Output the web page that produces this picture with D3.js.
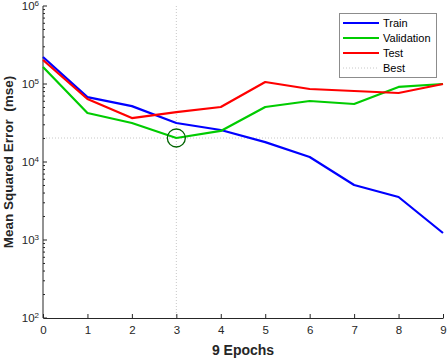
<!DOCTYPE html>
<html>
<head>
<meta charset="utf-8">
<script src="https://cdn.jsdelivr.net/npm/d3@7"></script>
<style>
  body { margin: 0; background: #fff; }
  text { font-family: "Liberation Sans", Arial, sans-serif; }
</style>
</head>
<body>
<div id="chart"></div>
<script>
// data (log scale, mse per epoch)
let epochs = [0, 1, 2, 3, 4, 5, 6, 7, 8, 9];
let trainPerf = [2.22e5, 6.8e4, 5.2e4, 3.16e4, 2.57e4, 1.8e4, 1.16e4, 5.07e3, 3.56e3, 1.23e3];
let valPerf = [1.65e5, 4.25e4, 3.16e4, 2.03e4, 2.5e4, 5.07e4, 6.05e4, 5.54e4, 9.16e4, 1.0e5];
let testPerf = [2.03e5, 6.42e4, 3.66e4, 4.37e4, 5.07e4, 1.06e5, 8.63e4, 8.13e4, 7.67e4, 1.0e5];
let bestEpoch = 3;
let yDecades = [2, 3, 4, 5, 6];

let seriesNames = ["Train", "Validation", "Test", "Best"];
let seriesColors = ["#0000ff", "#00cc00", "#ff0000", "#c8c8c8"];

let margin = {top: 6, right: 4, bottom: 41, left: 43};
let width = 447 - margin.left - margin.right,
    height = 359 - margin.top - margin.bottom;

let svg = d3.select("#chart").append("svg")
    .attr("width", 447).attr("height", 359)
    .append("g")
    .attr("transform", "translate(" + margin.left + "," + margin.top + ")");

let x = d3.scaleLinear().domain([0, 9]).range([0, width]);
let y = d3.scaleLog().domain([1e2, 1e6]).range([height, 0]);

let axisColor = "#262626";

// best lines (dotted)
let bestVal = valPerf[bestEpoch];
svg.append("line")
    .attr("x1", x(bestEpoch)).attr("x2", x(bestEpoch))
    .attr("y1", 0).attr("y2", height)
    .attr("stroke", seriesColors[3]).attr("stroke-width", 1)
    .attr("stroke-dasharray", "1,2");
svg.append("line")
    .attr("x1", 0).attr("x2", width)
    .attr("y1", y(bestVal)).attr("y2", y(bestVal))
    .attr("stroke", seriesColors[3]).attr("stroke-width", 1)
    .attr("stroke-dasharray", "1,2");

// x axis
let xAxis = d3.axisBottom(x).tickValues(epochs).tickSize(0).tickPadding(8)
    .tickFormat(d3.format("d"));
let gx = svg.append("g")
    .attr("transform", "translate(0," + height + ")")
    .call(xAxis);
gx.select(".domain").attr("stroke", axisColor);
gx.selectAll("text").attr("fill", axisColor).style("font-size", "11.5px");
gx.selectAll(".tick").append("line")
    .attr("y1", 0).attr("y2", -4).attr("stroke", axisColor);

// y axis with minor ticks pointing inward
svg.append("line")
    .attr("x1", 0).attr("x2", 0).attr("y1", 0).attr("y2", height)
    .attr("stroke", axisColor);
let minor = [];
for (let d = 2; d < 6; d++) {
    for (let m = 2; m <= 9; m++) minor.push(m * Math.pow(10, d));
}
svg.selectAll(".minor").data(minor).enter().append("line")
    .attr("class", "minor")
    .attr("x1", 0).attr("x2", 2)
    .attr("y1", d => y(d)).attr("y2", d => y(d))
    .attr("stroke", axisColor);
svg.selectAll(".major").data(yDecades).enter().append("line")
    .attr("class", "major")
    .attr("x1", 0).attr("x2", 4)
    .attr("y1", d => y(Math.pow(10, d))).attr("y2", d => y(Math.pow(10, d)))
    .attr("stroke", axisColor);
let yl = svg.selectAll(".ylab").data(yDecades).enter().append("text")
    .attr("class", "ylab")
    .attr("x", -4)
    .attr("y", d => y(Math.pow(10, d)) + 4)
    .attr("text-anchor", "end")
    .attr("fill", axisColor)
    .style("font-size", "11.5px");
yl.append("tspan").text("10");
yl.append("tspan").attr("dy", -4).style("font-size", "8px").text(d => d);

// series lines
let line = d3.line().x((d, i) => x(epochs[i])).y(d => y(d));
[trainPerf, valPerf, testPerf].forEach(function(s, i) {
    svg.append("path").datum(s)
        .attr("d", line)
        .attr("fill", "none")
        .attr("stroke", seriesColors[i])
        .attr("stroke-width", 2.2)
        .attr("stroke-linejoin", "round");
});

// best circle
svg.append("circle")
    .attr("cx", x(bestEpoch)).attr("cy", y(bestVal)).attr("r", 9)
    .attr("fill", "none").attr("stroke", "#006400").attr("stroke-width", 1.3);

// axis titles
svg.append("text")
    .attr("x", width / 2).attr("y", height + 37)
    .attr("text-anchor", "middle")
    .style("font-size", "14px").style("font-weight", "bold")
    .attr("fill", axisColor)
    .text("9 Epochs");
svg.append("text")
    .attr("transform", "translate(" + (-30) + "," + (height / 2) + ") rotate(-90)")
    .attr("text-anchor", "middle")
    .style("font-size", "13.5px").style("font-weight", "bold")
    .attr("fill", axisColor)
    .style("white-space", "pre")
    .text("Mean Squared Error  (mse)");

// legend
let lg = svg.append("g").attr("transform", "translate(" + (339 - margin.left) + "," + (13 - margin.top) + ")");
lg.append("rect").attr("x", 0.5).attr("y", 0.5).attr("width", 97).attr("height", 64)
    .attr("fill", "#fff").attr("stroke", "#8c8c8c");
seriesNames.forEach(function(n, i) {
    let yy = 10 + i * 15;
    lg.append("line")
        .attr("x1", 4).attr("x2", 40).attr("y1", yy).attr("y2", yy)
        .attr("stroke", seriesColors[i])
        .attr("stroke-width", i < 3 ? 2.2 : 1)
        .attr("stroke-dasharray", i < 3 ? null : "1,2");
    lg.append("text")
        .attr("x", 44).attr("y", yy + 4)
        .style("font-size", "11px")
        .attr("fill", "#000")
        .text(n);
});
</script>
</body>
</html>
